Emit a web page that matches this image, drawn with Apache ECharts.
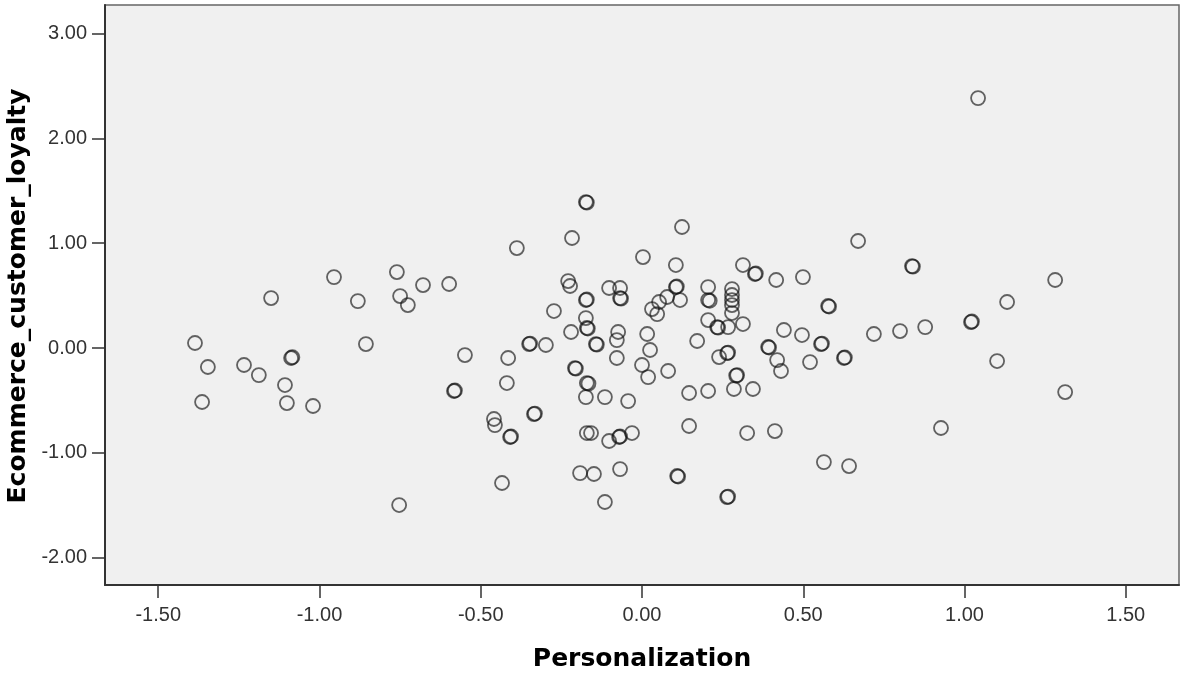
<!DOCTYPE html>
<html>
<head>
<meta charset="utf-8">
<script src="https://cdn.jsdelivr.net/npm/echarts@6/dist/echarts.min.js"></script>
<style>
html,body{margin:0;padding:0;background:#fff;}
#chart{width:1180px;height:677px;}
</style>
</head>
<body>
<div id="chart"></div>
<script>
const xTitle = 'Personalization';
const yTitle = 'Ecommerce_customer_loyalty';
const xTicks = [-1.5, -1.0, -0.5, 0.0, 0.5, 1.0, 1.5];
const yTicks = [-2, -1, 0, 1, 2, 3];

const personalization = [
  -1.386, -1.346, -1.364, -1.234, -1.188, -1.150, -1.088, -1.084, -1.107, -1.101,
  -1.020, -0.955, -0.881, -0.856, -0.760, -0.750, -0.726, -0.679, -0.598, -0.549,
  -0.583, -0.580, -0.753, -0.388, -0.415, -0.419, -0.459, -0.456, -0.335, -0.332,
  -0.409, -0.406, -0.434, -0.350, -0.347, -0.298, -0.273, -0.217, -0.174, -0.171,
  -0.229, -0.223, -0.174, -0.171, -0.174, -0.171, -0.168, -0.220, -0.143, -0.140,
  -0.208, -0.205, -0.171, -0.166, -0.174, -0.115, -0.043, -0.171, -0.158, -0.102,
  -0.071, -0.068, -0.031, -0.192, -0.149, -0.068, -0.115, -0.102, -0.068, -0.068,
  -0.065, -0.074, -0.078, -0.078, 0.003, 0.016, 0.025, 0.000, 0.019, 0.081,
  0.031, 0.047, 0.053, 0.078, 0.105, 0.108, 0.118, 0.105, 0.124, 0.171,
  0.146, 0.205, 0.146, 0.109, 0.112, 0.205, 0.205, 0.210, 0.205, 0.233,
  0.236, 0.267, 0.313, 0.239, 0.264, 0.267, 0.279, 0.279, 0.279, 0.279,
  0.279, 0.295, 0.292, 0.285, 0.344, 0.326, 0.264, 0.267, 0.313, 0.350,
  0.353, 0.416, 0.499, 0.391, 0.394, 0.419, 0.431, 0.440, 0.496, 0.521,
  0.412, 0.577, 0.580, 0.555, 0.558, 0.626, 0.629, 0.564, 0.642, 0.670,
  0.719, 0.800, 0.878, 0.837, 0.840, 0.927, 1.042, 1.020, 1.023, 1.101,
  1.132, 1.281, 1.312
];
const loyalty = [
  0.048, -0.181, -0.515, -0.162, -0.258, 0.477, -0.095, -0.088, -0.353, -0.525,
  -0.553, 0.677, 0.448, 0.038, 0.725, 0.496, 0.410, 0.601, 0.611, -0.067,
  -0.410, -0.405, -1.498, 0.954, -0.095, -0.334, -0.677, -0.735, -0.630, -0.625,
  -0.849, -0.844, -1.288, 0.038, 0.043, 0.029, 0.353, 1.050, 1.393, 1.388,
  0.639, 0.592, 0.458, 0.463, 0.286, 0.191, 0.186, 0.153, 0.038, 0.033,
  -0.191, -0.196, -0.334, -0.339, -0.468, -0.468, -0.506, -0.811, -0.811, -0.887,
  -0.849, -0.844, -0.811, -1.193, -1.202, -1.155, -1.469, 0.573, 0.573, 0.477,
  0.472, 0.153, 0.076, -0.095, 0.868, 0.134, -0.019, -0.162, -0.277, -0.219,
  0.372, 0.324, 0.439, 0.487, 0.582, 0.587, 0.458, 0.792, 1.155, 0.067,
  -0.429, -0.410, -0.744, -1.221, -1.226, 0.582, 0.458, 0.451, 0.267, 0.200,
  0.195, 0.200, 0.229, -0.086, -0.048, -0.043, 0.563, 0.506, 0.458, 0.410,
  0.334, -0.258, -0.263, -0.391, -0.391, -0.811, -1.422, -1.417, 0.792, 0.706,
  0.711, 0.649, 0.677, 0.010, 0.005, -0.115, -0.219, 0.172, 0.124, -0.134,
  -0.792, 0.401, 0.396, 0.038, 0.043, -0.095, -0.090, -1.088, -1.126, 1.021,
  0.134, 0.162, 0.200, 0.782, 0.777, -0.763, 2.385, 0.248, 0.253, -0.124,
  0.439, 0.649, -0.420
];

const points = personalization.map((x, i) => [x, loyalty[i]]);
const FONT = "'Liberation Sans', Arial, sans-serif";
const TITLE_FONT = "'DejaVu Sans', Verdana, sans-serif";

const chart = echarts.init(document.getElementById('chart'), null, {renderer: 'canvas'});
chart.setOption({
  animation: false,
  backgroundColor: '#ffffff',
  grid: {
    left: 105, right: 1, top: 5, bottom: 92,
    show: true,
    backgroundColor: '#F0F0F0',
    borderColor: '#666',
    borderWidth: 1.5,
    outerBoundsMode: 'none'
  },
  xAxis: {
    type: 'value',
    min: -1.665, max: 1.665,
    name: xTitle,
    nameLocation: 'middle',
    nameGap: 62,
    nameTextStyle: {fontFamily: TITLE_FONT, fontSize: 25, fontWeight: 'bold', color: '#000'},
    axisLine: {show: true, onZero: false, lineStyle: {color: '#333', width: 2}},
    axisTick: {show: true, length: 13, lineStyle: {color: '#333', width: 1.5}, customValues: xTicks},
    axisLabel: {show: true, margin: 20, fontFamily: FONT, fontSize: 20, color: '#333',
      customValues: xTicks, formatter: v => v.toFixed(2)},
    splitLine: {show: false}
  },
  yAxis: {
    type: 'value',
    min: -2.261, max: 3.273,
    axisLine: {show: true, onZero: false, lineStyle: {color: '#333', width: 2}},
    axisTick: {show: true, length: 13, lineStyle: {color: '#333', width: 1.5}, customValues: yTicks},
    axisLabel: {show: true, margin: 18, fontFamily: FONT, fontSize: 20, color: '#333',
      customValues: yTicks, formatter: v => v.toFixed(2)},
    splitLine: {show: false}
  },
  graphic: [{
    type: 'text',
    x: 18, y: 296,
    rotation: Math.PI / 2,
    style: {
      text: yTitle,
      fontFamily: TITLE_FONT, fontSize: 25, fontWeight: 'bold', fill: '#000',
      align: 'center', verticalAlign: 'middle'
    }
  }],
  series: [{
    type: 'scatter',
    data: points,
    symbol: 'circle',
    symbolSize: 14,
    itemStyle: {color: 'rgba(0,0,0,0)', borderColor: 'rgba(15,15,15,0.8)', borderWidth: 1.8},
    emphasis: {disabled: true}
  }]
});
</script>
</body>
</html>
